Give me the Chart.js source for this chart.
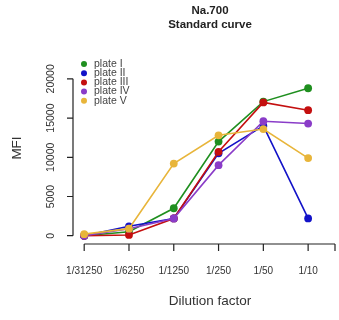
<!DOCTYPE html>
<html>
<head>
<meta charset="utf-8">
<script src="https://cdn.jsdelivr.net/npm/chart.js@4"></script>
<style>
  html, body { margin: 0; padding: 0; background: #fff; }
  #wrap { width: 339px; height: 320px; }
</style>
</head>
<body>
<div id="wrap"><canvas id="curve" width="339" height="320"></canvas></div>
<script>
// dilution steps, left to right
const dilutions = ['1/31250', '1/6250', '1/1250', '1/250', '1/50', '1/10'];
const yTicks = [0, 5000, 10000, 15000, 20000];

const plateNames = ['plate I', 'plate II', 'plate III', 'plate IV', 'plate V'];
const plateI   = [0, 500, 3500, 12000, 17100, 18800];
const plateII  = [0, 1200, 2200, 10500, 14000, 2200];
const plateIII = [0, 100, 2200, 10700, 17000, 16000];
const plateIV  = [0, 900, 2200, 9000, 14600, 14300];
const plateV   = [200, 900, 9200, 12800, 13600, 9900];
const plateColors = ['#1f8f1f', '#1212c8', '#c40f0f', '#8a3cc8', '#e8b53a'];

const series = [plateI, plateII, plateIII, plateIV, plateV];
const FONT = '"Liberation Sans", Arial, sans-serif';

const datasets = series.map((vals, i) => ({
  label: plateNames[i],
  data: vals.map((v, k) => ({ x: k, y: v })),
  borderColor: plateColors[i],
  backgroundColor: plateColors[i],
  borderWidth: 1.6,
  pointRadius: 3.9,
  pointBorderWidth: 0,
  tension: 0,
  order: 5 - i
}));

// R-style detached axes, titles and legend
const baseAxes = {
  id: 'baseAxes',
  afterDraw(chart) {
    const ctx = chart.ctx;
    const xs = chart.scales.x, ys = chart.scales.y;
    const area = chart.chartArea;
    ctx.save();
    ctx.strokeStyle = '#222';
    ctx.fillStyle = '#333';
    ctx.lineWidth = 1.2;

    // y axis
    const yx = area.left;
    ctx.beginPath();
    ctx.moveTo(yx, ys.getPixelForValue(yTicks[0]));
    ctx.lineTo(yx, ys.getPixelForValue(yTicks[yTicks.length - 1]));
    yTicks.forEach(t => {
      const p = ys.getPixelForValue(t);
      ctx.moveTo(yx, p);
      ctx.lineTo(yx - 6, p);
    });
    ctx.stroke();
    ctx.font = '10.5px ' + FONT;
    ctx.textAlign = 'center';
    ctx.textBaseline = 'middle';
    yTicks.forEach(t => {
      const p = ys.getPixelForValue(t);
      ctx.save();
      ctx.translate(51, p);
      ctx.rotate(-Math.PI / 2);
      ctx.fillText(String(t), 0, 0);
      ctx.restore();
    });

    // x axis
    const xy = area.bottom + 2;
    const xEnd = xs.getPixelForValue(xs.max);
    ctx.beginPath();
    ctx.moveTo(xs.getPixelForValue(0), xy);
    ctx.lineTo(xEnd, xy);
    dilutions.forEach((d, k) => {
      const p = xs.getPixelForValue(k);
      ctx.moveTo(p, xy);
      ctx.lineTo(p, xy + 7);
    });
    ctx.moveTo(xEnd, xy);
    ctx.lineTo(xEnd, xy + 7);
    ctx.stroke();
    ctx.font = '10px ' + FONT;
    dilutions.forEach((d, k) => {
      ctx.fillText(d, xs.getPixelForValue(k), 271);
    });

    // axis titles
    ctx.font = '13.5px ' + FONT;
    ctx.fillText('Dilution factor', 210, 301);
    ctx.save();
    ctx.translate(17, 148);
    ctx.rotate(-Math.PI / 2);
    ctx.fillText('MFI', 0, 0);
    ctx.restore();

    // main title
    ctx.fillStyle = '#222';
    ctx.font = 'bold 11.5px ' + FONT;
    ctx.fillText('Na.700', 210, 11);
    ctx.fillText('Standard curve', 210, 25);

    // legend
    ctx.font = '10.5px ' + FONT;
    ctx.textAlign = 'left';
    plateNames.forEach((n, i) => {
      const ly = 64 + i * 9.2;
      ctx.fillStyle = plateColors[i];
      ctx.beginPath();
      ctx.arc(84, ly, 3, 0, Math.PI * 2);
      ctx.fill();
      ctx.fillStyle = '#444';
      ctx.fillText(n, 94, ly);
    });
    ctx.restore();
  }
};

new Chart(document.getElementById('curve'), {
  type: 'line',
  data: { datasets },
  options: {
    responsive: false,
    animation: false,
    layout: { padding: { left: 73, right: 4, top: 71, bottom: 78 } },
    scales: {
      x: { type: 'linear', min: -0.25, max: 5.6, display: false },
      y: { type: 'linear', min: -800, max: 21000, display: false }
    },
    plugins: {
      legend: { display: false },
      tooltip: { enabled: false }
    }
  },
  plugins: [baseAxes]
});
</script>
</body>
</html>
